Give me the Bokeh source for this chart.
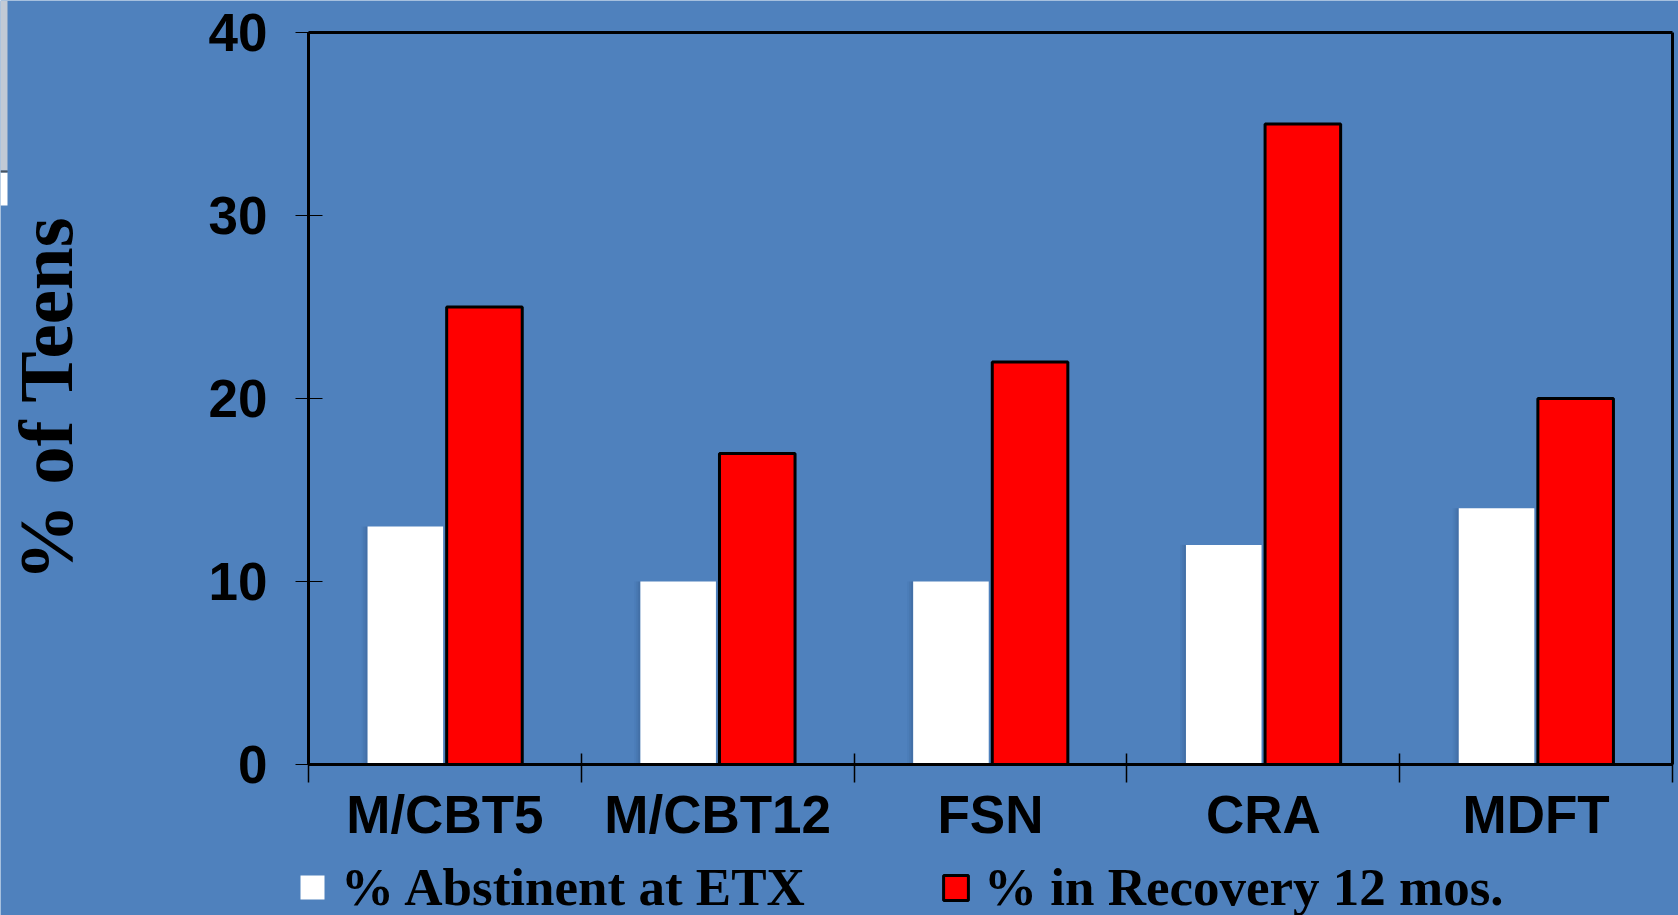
from bokeh.plotting import figure
from bokeh.models import (ColumnDataSource, FixedTicker, Legend, LegendItem,
                          LinearAxis, Range1d)
from bokeh.transform import dodge
from bokeh.embed import file_html
from bokeh.resources import INLINE

# Outcome rates by treatment condition
categories = ["M/CBT5", "M/CBT12", "FSN", "CRA", "MDFT"]
abstinent_etx = [13, 10, 10, 12, 14]
recovery_12mo = [25, 17, 22, 35, 20]
y_ticks = [0, 10, 20, 30, 40]
series_labels = ["% Abstinent at ETX", "% in Recovery 12 mos."]

BG = "#4F81BD"
SANS = "Liberation Sans"
SERIF = "Liberation Serif"

# page geometry (pixels): the plotting area fills the whole canvas and the
# axes are pinned at the data origin, so the legend can sit under the axis
W, H = 1678, 915
AX_L, AX_R, AX_T, AX_B = 308, 1672, 32, 764

n = len(categories)
y_max = y_ticks[-1]
xs = (AX_R - AX_L) / n          # px per category
ys = (AX_B - AX_T) / y_max      # px per percentage point
PX = 1.0 / xs
X_LO, X_HI = -AX_L / xs, n + (W - AX_R) / xs
Y_LO, Y_HI = -(H - AX_B) / ys, y_max + AX_T / ys

BAR_W = 0.277
OFF = 0.145

centers = [i + 0.5 for i in range(n)]
src = ColumnDataSource(dict(x=centers, abst=abstinent_etx, rec=recovery_12mo))

p = figure(width=W, height=H, x_range=Range1d(X_LO, X_HI),
           y_range=Range1d(Y_LO, Y_HI), output_backend="svg",
           toolbar_location=None, min_border=0)
p.background_fill_color = BG
p.border_fill_color = BG
p.outline_line_color = None
p.xgrid.visible = False
p.ygrid.visible = False

# soft shadow along the left edge of the white bars
for k, a in enumerate([0.22, 0.12, 0.05]):
    p.vbar(x=dodge("x", -OFF - BAR_W / 2 - (2 * k + 1) * PX), top="abst",
           width=2 * PX, source=src, fill_color="#1a3559", fill_alpha=a,
           line_color=None)

white_r = p.vbar(x=dodge("x", -OFF), top="abst", width=BAR_W, source=src,
                 fill_color="white", line_color=None)
red_r = p.vbar(x=dodge("x", OFF), top="rec", width=BAR_W, source=src,
               fill_color="#FF0000", line_color="black", line_width=3)

# y axis pinned at x = 0
ya = p.yaxis[0]
ya.fixed_location = 0
ya.bounds = (0, y_max)
ya.ticker = FixedTicker(ticks=y_ticks, minor_ticks=[])
ya.axis_line_width = 3
ya.axis_line_color = "black"
ya.major_tick_in = 14
ya.major_tick_out = 13
ya.major_tick_line_width = 1
ya.major_tick_line_color = "black"
ya.major_label_standoff = 28
ya.major_label_text_font = SANS
ya.major_label_text_font_style = "bold"
ya.major_label_text_font_size = "53px"
ya.major_label_text_color = "black"
ya.axis_label = "% of Teens"
ya.axis_label_text_font = SERIF
ya.axis_label_text_font_style = "bold"
ya.axis_label_text_font_size = "77px"
ya.axis_label_text_color = "black"
ya.axis_label_standoff = 117

# x axis pinned at y = 0: labels at category centres, ticks at boundaries
xa = p.xaxis[0]
xa.fixed_location = 0
xa.bounds = (0, n)
xa.ticker = FixedTicker(ticks=centers, minor_ticks=list(range(n + 1)))
xa.major_label_overrides = {c: name for c, name in zip(centers, categories)}
xa.axis_line_width = 3
xa.axis_line_color = "black"
xa.major_tick_line_color = None
xa.major_tick_in = 0
xa.major_tick_out = 0
xa.minor_tick_in = 11
xa.minor_tick_out = 18
xa.minor_tick_line_width = 1.5
xa.minor_tick_line_color = "black"
xa.major_label_standoff = 2
xa.major_label_text_font = SANS
xa.major_label_text_font_style = "bold"
xa.major_label_text_font_size = "53px"
xa.major_label_text_color = "black"

# top and right edges of the plot box
for side, loc, bnds in (("above", y_max, (0, n)), ("right", n, (0, y_max))):
    edge_axis = LinearAxis(fixed_location=loc, bounds=bnds,
                           ticker=FixedTicker(ticks=[], minor_ticks=[]),
                           axis_line_width=3, axis_line_color="black",
                           major_label_text_font_size="0px")
    p.add_layout(edge_axis, side)

# legend under the category labels
legend_style = dict(orientation="horizontal", padding=0, margin=0,
                    border_line_color=None, background_fill_alpha=0,
                    label_text_font=SERIF, label_text_font_style="bold",
                    label_text_font_size="53px", label_text_color="black")
leg1 = Legend(items=[LegendItem(label=series_labels[0], renderers=[white_r])],
              location=(297, -2), glyph_width=30, glyph_height=30,
              label_standoff=14, **legend_style)
leg2 = Legend(items=[LegendItem(label=series_labels[1], renderers=[red_r])],
              location=(940, -2), glyph_width=31, glyph_height=31,
              label_standoff=13, **legend_style)
p.add_layout(leg1)
p.add_layout(leg2)

# slide edge at the far left
edge_r = X_LO + 7 * PX
p.quad(left=X_LO, right=edge_r, top=Y_HI, bottom=Y_HI - 170 / ys,
       fill_color="#c2cad5", line_color=None)
p.quad(left=X_LO, right=edge_r, top=Y_HI - 172 / ys, bottom=Y_HI - 205 / ys,
       fill_color="white", line_color=None)
p.quad(left=X_LO, right=edge_r, top=Y_HI - 170 / ys, bottom=Y_HI - 172 / ys,
       fill_color="#4a5560", line_color=None)

open("out.html", "w").write(file_html(p, INLINE))
